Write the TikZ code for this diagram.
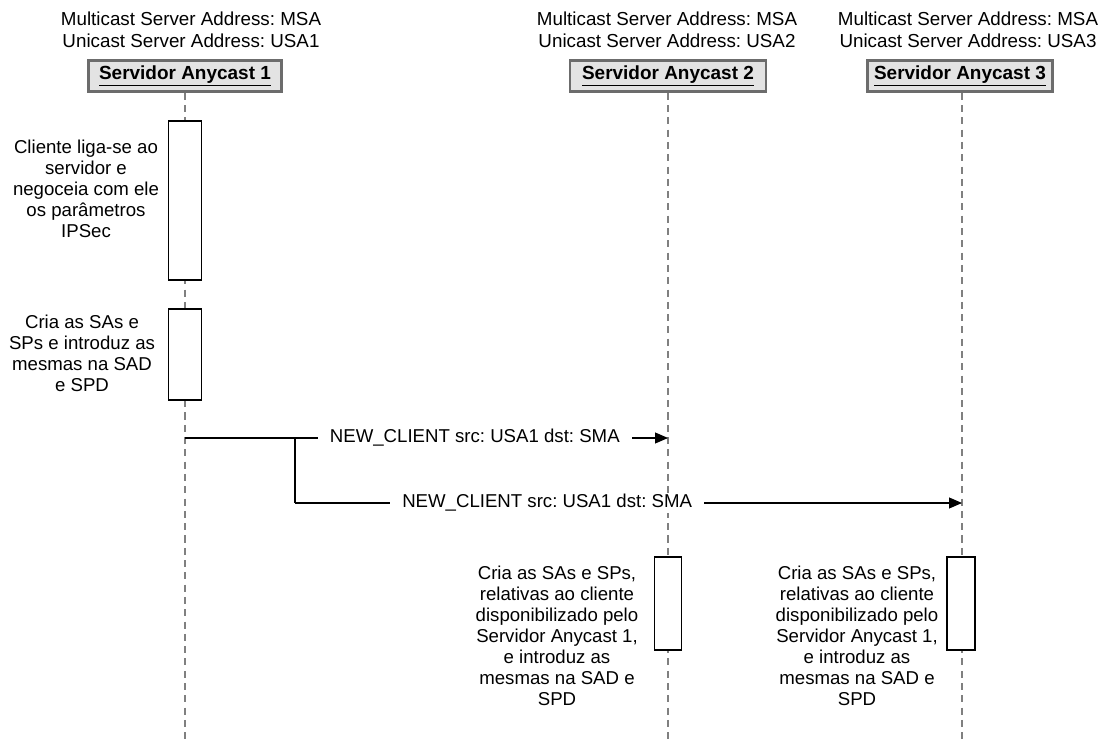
\documentclass[tikz,border=0pt]{standalone}
\usepackage{fontspec}
\setmainfont{Liberation Sans}
\frenchspacing
\usepackage{tikz}
\usetikzlibrary{positioning, arrows.meta, calc}
\tikzset{
	hdrtext/.style={font=\fontsize{10.7}{12.2}\selectfont, align=center},
	actor/.style={draw=gray!85!black, line width=1.4pt, fill=gray!22,
		font=\fontsize{10.8}{12}\selectfont\bfseries, minimum height=0.62cm, inner sep=0pt},
	lifeline/.style={gray, dashed, line width=0.9pt, dash pattern=on 4pt off 3pt},
	actbar/.style={draw, fill=white, line width=0.6pt, minimum width=0.66cm, inner sep=0pt},
	note/.style={font=\fontsize{10.6}{11.9}\selectfont, align=center},
	msg/.style={line width=0.6pt, -{Triangle[length=0.26cm,width=0.22cm]}},
	msglabel/.style={font=\fontsize{10.6}{12}\selectfont, fill=white, inner xsep=7pt, inner ysep=1pt}
}
\newcommand{\ulbox}[1]{\underline{#1}}

\begin{document}
\begin{tikzpicture}[x=0.02cm, y=-0.02cm]
      \useasboundingbox (0,0) rectangle (1105,743);
      % servidores
      \node[hdrtext] (h1) at (191,30) {Multicast Server Address: MSA\\Unicast Server Address: USA1};
      \node[hdrtext] (h2) at (667,30) {Multicast Server Address: MSA\\Unicast Server Address: USA2};
      \node[hdrtext] (h3) at (968,30) {Multicast Server Address: MSA\\Unicast Server Address: USA3};
      \node[actor, minimum width=3.86cm] (s1) at (185,76) {\ulbox{Servidor Anycast 1}};
      \node[actor, minimum width=3.92cm] (s2) at (668,76) {\ulbox{Servidor Anycast 2}};
      \node[actor, minimum width=3.7cm] (s3) at (960,76) {\ulbox{Servidor Anycast 3}};
      \coordinate (e1) at (185,743);
      \coordinate (e2) at (668,743);
      \coordinate (e3) at (962,743);
      \draw[lifeline] (s1.south) -- (e1);
      \draw[lifeline] (s2.south -| e2) -- (e2);
      \draw[lifeline] (s3.south -| e3) -- (e3);
      % barras de ativacao
      \node[actbar, minimum height=3.18cm] (a1) at (185,200.5) {};
      \node[actbar, minimum height=1.82cm] (a2) at (185,354.5) {};
      \node[actbar, minimum width=0.54cm, minimum height=1.86cm] (a3) at (668,603.5) {};
      \node[actbar, minimum width=0.56cm, minimum height=1.86cm] (a4) at (961,603.5) {};
      \node[note] (n1) at (86,189) {Cliente liga-se ao\\servidor e\\negoceia com ele\\os parâmetros\\IPSec};
      \node[note] (n2) at (82,353) {Cria as SAs e\\SPs e introduz as\\mesmas na SAD\\e SPD};
      \node[note] (n3) at (557,636) {Cria as SAs e SPs,\\relativas ao cliente\\disponibilizado pelo\\Servidor Anycast 1,\\e introduz as\\mesmas na SAD e\\SPD};
      \node[note] (n4) at (857,636) {Cria as SAs e SPs,\\relativas ao cliente\\disponibilizado pelo\\Servidor Anycast 1,\\e introduz as\\mesmas na SAD e\\SPD};
      % mensagens
      \coordinate (m1) at (185,438);
      \coordinate (m2) at (668,438);
      \coordinate (b1) at (295,438);
      \coordinate (b2) at (295,503);
      \coordinate (m3) at (962,503);
      \draw[msg] (m1) -- node[msglabel, pos=0.6] (t1) {NEW\_CLIENT src: USA1 dst: SMA} (m2);
      \draw[line width=0.6pt] (b1) -- (b2);
      \draw[msg] (b2) -- node[msglabel, pos=0.378] (t2) {NEW\_CLIENT src: USA1 dst: SMA} (m3);
    \end{tikzpicture}
\end{document}
